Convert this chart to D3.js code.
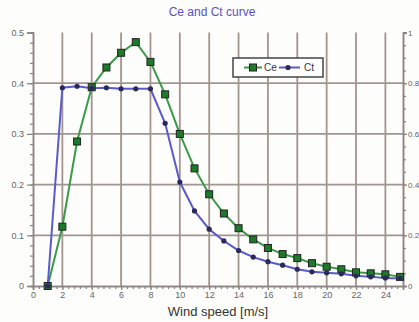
<!DOCTYPE html>
<html><head><meta charset="utf-8">
<script src="https://cdn.jsdelivr.net/npm/d3@7"></script>
<style>html,body{margin:0;padding:0;background:#fdfdfb;}svg{display:block;}</style>
</head><body>
<script>
const windSpeed = [1,2,3,4,5,6,7,8,9,10,11,12,13,14,15,16,17,18,19,20,21,22,23,24,25];
const ce = [0,0.117,0.285,0.392,0.431,0.46,0.481,0.442,0.378,0.300,0.232,0.181,0.143,0.114,0.092,0.075,0.063,0.055,0.045,0.038,0.033,0.027,0.025,0.023,0.018];
const ct = [0,0.391,0.394,0.390,0.391,0.389,0.389,0.389,0.321,0.205,0.148,0.112,0.089,0.070,0.057,0.048,0.041,0.033,0.028,0.026,0.024,0.020,0.018,0.016,0.015];
const xTicks = [0,2,4,6,8,10,12,14,16,18,20,22,24];
const yTicks = [0,0.1,0.2,0.3,0.4,0.5];
const yRightTicks = [0,0.2,0.4,0.6,0.8,1];
const title = "Ce and Ct curve";
const xLabel = "Wind speed [m/s]";

const W=419,H=322;
const svg=d3.select("body").append("svg").attr("width",W).attr("height",H);
svg.append("rect").attr("width",W).attr("height",H).attr("fill","#fdfdfb");
const L=33,R=403,T=32.5,B=286;
const x=d3.scaleLinear().domain([0,25.2]).range([L,R]);
const y=d3.scaleLinear().domain([0,0.5]).range([B,T]);
const y2=d3.scaleLinear().domain([0,1]).range([B,T]);
const gridC="#a39490";

// grid
svg.append("g").selectAll("line").data(xTicks.filter(d=>d>0)).join("line")
 .attr("x1",d=>x(d)).attr("x2",d=>x(d)).attr("y1",T).attr("y2",B)
 .attr("stroke",gridC).attr("stroke-width",1.8);
svg.append("g").selectAll("line").data(yTicks.filter(d=>d>0&&d<0.5)).join("line")
 .attr("x1",L).attr("x2",R).attr("y1",d=>y(d)).attr("y2",d=>y(d))
 .attr("stroke",gridC).attr("stroke-width",1.8);

// axes
const axC="#8a8482";
const gL=svg.append("g").attr("transform",`translate(${L},0)`)
 .call(d3.axisLeft(y).tickValues(d3.range(0,0.5001,0.02)).tickSize(3).tickFormat(""));
const gL2=svg.append("g").attr("transform",`translate(${L},0)`)
 .call(d3.axisLeft(y).tickValues(yTicks).tickSize(6).tickPadding(3).tickFormat(d=>d===0?"0":d3.format(".1f")(d)));
const gR=svg.append("g").attr("transform",`translate(${R},0)`)
 .call(d3.axisRight(y2).tickValues(d3.range(0,1.0001,0.05)).tickSize(3).tickFormat(""));
const gR2=svg.append("g").attr("transform",`translate(${R},0)`)
 .call(d3.axisRight(y2).tickValues(yRightTicks).tickSize(4).tickPadding(1).tickFormat(d=>d===0?"0":d===1?"1":d3.format(".1f")(d)));
const gB=svg.append("g").attr("transform",`translate(0,${B})`)
 .call(d3.axisBottom(x).tickValues(d3.range(0,25.01,0.4)).tickSize(3).tickFormat(""));
const gB2=svg.append("g").attr("transform",`translate(0,${B})`)
 .call(d3.axisBottom(x).tickValues(xTicks).tickSize(4).tickPadding(2));
[gL,gL2,gR,gR2,gB,gB2].forEach(g=>{
  g.select(".domain").attr("stroke",axC).attr("stroke-width",1.5);
  g.selectAll(".tick line").attr("stroke",axC).attr("stroke-width",1.2);
  g.selectAll("text").attr("fill","#666").attr("font-family","Liberation Sans, Arial, sans-serif").attr("font-size",9);
});
gR2.selectAll("text").attr("font-size",8);

// lines
const line=(arr)=>d3.line().x((d,i)=>x(windSpeed[i])).y(d=>y(d))(arr);
svg.append("path").attr("d",line(ce)).attr("fill","none").attr("stroke","#3a9a48").attr("stroke-width",2);
svg.append("path").attr("d",line(ct)).attr("fill","none").attr("stroke","#5a5acc").attr("stroke-width",2);
svg.append("g").selectAll("rect").data(ce).join("rect")
 .attr("x",(d,i)=>x(windSpeed[i])-3.5).attr("y",d=>y(d)-3.5).attr("width",7).attr("height",7)
 .attr("fill","#1d7a2a").attr("stroke","#222").attr("stroke-width",1);
svg.append("g").selectAll("circle").data(ct).join("circle")
 .attr("cx",(d,i)=>x(windSpeed[i])).attr("cy",d=>y(d)).attr("r",2.6)
 .attr("fill","#2a2a5a");

// title and label
svg.append("text").attr("x",212).attr("y",16).attr("text-anchor","middle")
 .attr("font-family","Liberation Sans, Arial, sans-serif").attr("font-size",12)
 .attr("fill","#5a50c8").text(title);
svg.append("text").attr("x",218).attr("y",316).attr("text-anchor","middle")
 .attr("font-family","Liberation Sans, Arial, sans-serif").attr("font-size",13)
 .attr("fill","#333").text(xLabel);

// legend
const lg=svg.append("g");
lg.append("rect").attr("x",233).attr("y",58).attr("width",90).attr("height",19)
 .attr("fill","#fff").attr("stroke","#444").attr("stroke-width",1.5);
lg.append("line").attr("x1",244).attr("x2",262).attr("y1",67.5).attr("y2",67.5).attr("stroke","#3a9a48").attr("stroke-width",2);
lg.append("rect").attr("x",249.5).attr("y",64).attr("width",7).attr("height",7).attr("fill","#1d7a2a").attr("stroke","#222");
lg.append("text").attr("x",264).attr("y",71).attr("font-family","Liberation Sans, Arial, sans-serif").attr("font-size",10).attr("fill","#333").text("Ce");
lg.append("line").attr("x1",279).attr("x2",300).attr("y1",67.5).attr("y2",67.5).attr("stroke","#5a5acc").attr("stroke-width",2);
lg.append("circle").attr("cx",288).attr("cy",67.5).attr("r",2.6).attr("fill","#2a2a5a");
lg.append("text").attr("x",304).attr("y",71).attr("font-family","Liberation Sans, Arial, sans-serif").attr("font-size",10).attr("fill","#333").text("Ct");
</script>
</body></html>
